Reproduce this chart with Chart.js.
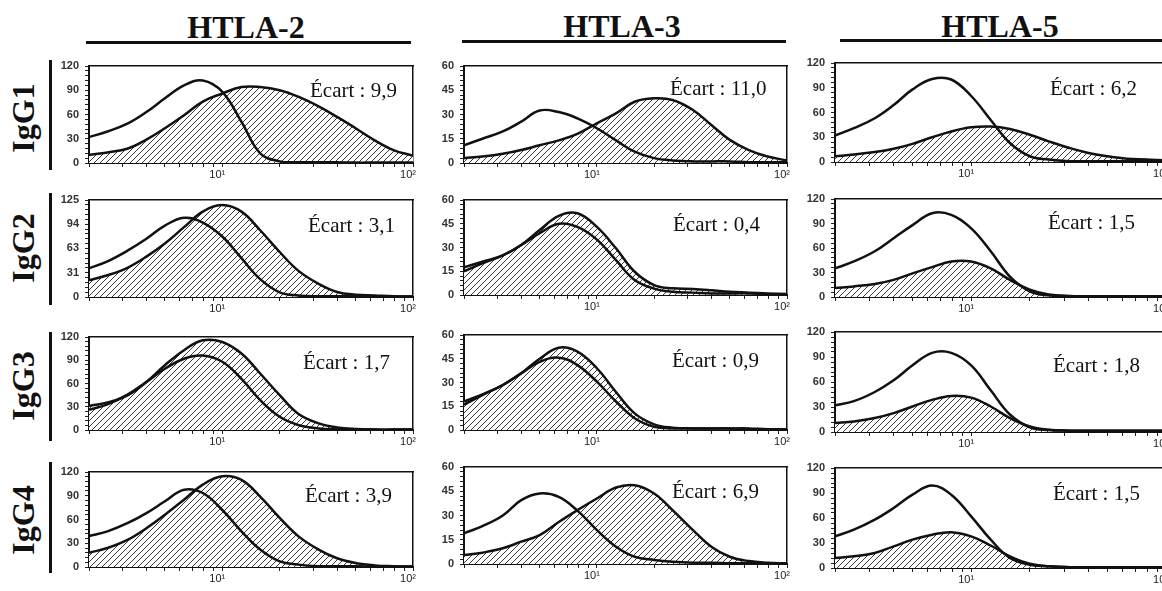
<!DOCTYPE html>
<html><head><meta charset="utf-8">
<script src="https://cdn.jsdelivr.net/npm/chart.js@4.4.0/dist/chart.umd.min.js"></script>
<style>
html,body{margin:0;padding:0;background:#fff;width:1162px;height:591px;overflow:hidden;position:relative;}
.t{position:absolute;font-family:"Liberation Serif","Times New Roman",serif;color:#111;white-space:nowrap;line-height:1;}
.col{font-weight:bold;font-size:32px;transform:translate(-50%,-50%);}
.row{font-weight:bold;font-size:32px;transform:translate(-50%,-50%) rotate(-90deg);}
.ec{font-size:21px;transform:translateY(-50%);}
.bar{position:absolute;background:#111;}
canvas{position:absolute;}
</style></head><body>
<script>
// ---------- data ----------
const columns = ['HTLA-2', 'HTLA-3', 'HTLA-5'];
const rows = ['IgG1', 'IgG2', 'IgG3', 'IgG4'];
const xValues = [2, 2.5, 3.2, 4, 5, 6.3, 7.9, 10, 12.6, 15.8, 20, 25, 32, 40, 50, 63, 79, 100];
const xTickValues = [2, 3, 4, 5, 6, 7, 8, 9, 10, 20, 30, 40, 50, 60, 70, 80, 90, 100];
const xTickLabels = { 10: '10¹', 100: '10²' };
const yTicks120 = [0, 30, 60, 90, 120];
const yTicks60 = [0, 15, 30, 45, 60];
const yTicks125 = [0, 31, 63, 94, 125];

const igg1_htla2_open    = [32, 39, 49, 63, 80, 96, 102, 88, 51, 12, 2, 1, 1, 1, 0.5, 0.5, 0.5, 0.5];
const igg1_htla2_hatched = [10, 13, 18, 29, 43, 59, 76, 86, 94, 94, 90, 82, 70, 57, 43, 28, 16, 9];
const igg1_htla3_open    = [11, 15, 19.5, 25.6, 32.5, 31.5, 27.6, 21.5, 14, 7, 3, 1.6, 1, 1, 1, 0.5, 0.5, 0.5];
const igg1_htla3_hatched = [3, 4, 5.7, 8, 11, 14, 18, 24.6, 30.7, 37.9, 40, 39, 32.8, 23.5, 14.3, 8, 4, 1.6];
const igg1_htla5_open    = [32, 41, 53, 69, 88, 100.6, 100, 80, 51, 23, 7, 3, 1, 1, 1, 1, 1, 1];
const igg1_htla5_hatched = [7, 9, 12, 16, 22, 30, 37, 42, 43, 40, 33, 25, 17, 11, 7, 4, 3, 2];

const igg2_htla2_open    = [37, 46, 60, 75, 92, 102, 96, 78, 50, 23, 6, 2, 1, 1, 1, 0.5, 0.5, 0.5];
const igg2_htla2_hatched = [21.5, 28, 38, 52, 69, 90, 110, 118.5, 110, 86, 58, 34, 17, 6.5, 3, 2, 1, 0.5];
const igg2_htla3_open    = [17.5, 21, 25, 31.6, 39, 45, 43, 35, 22, 9.5, 4, 2, 1.5, 1, 1, 1, 0.5, 0.5];
const igg2_htla3_hatched = [15, 20, 25, 31.6, 41, 50, 51.6, 43, 29.5, 14.7, 6.3, 4.2, 3.8, 3, 2, 1.5, 1, 0.6];
const igg2_htla5_open    = [35, 43.5, 56, 72, 88, 102.6, 100.5, 84, 56, 25, 7, 2, 1, 1, 1, 1, 1, 1];
const igg2_htla5_hatched = [11, 13, 16, 21, 29, 36.6, 43.5, 43.5, 35, 21, 9, 3, 1.2, 1, 1, 1, 1, 1];

const igg3_htla2_open    = [26, 33, 46, 62, 79, 92, 96, 88, 66, 38.6, 17, 6.4, 2, 1, 1, 0.5, 0.5, 0.5];
const igg3_htla2_hatched = [31, 35.6, 45, 62, 83.6, 103, 115.7, 113.6, 98.6, 72.9, 45, 21, 8.6, 3.4, 1.3, 0.5, 0.5, 0.5];
const igg3_htla3_open    = [16, 22, 28.4, 35.8, 43, 45.7, 41, 30.5, 18, 7.4, 2, 1, 1, 1, 1, 0.5, 0.5, 0.5];
const igg3_htla3_hatched = [18, 22.5, 28.4, 35.8, 45, 52, 49.5, 39, 24, 10.5, 3.6, 1.5, 1, 1, 1, 1, 0.5, 0.5];
const igg3_htla5_open    = [32, 37, 48, 62, 80, 95, 95, 80, 50, 21, 5.6, 2.4, 1.6, 1.5, 1.5, 1.5, 1.5, 1.5];
const igg3_htla5_hatched = [10.7, 12.7, 16.7, 22.6, 30.6, 38.5, 43.3, 41.3, 30.6, 16.7, 6.7, 2.8, 1.6, 1.5, 1.5, 1.5, 1.5, 1.5];

const igg4_htla2_open    = [39, 45, 55.6, 68, 83, 97.7, 93.5, 72, 45, 22, 7, 3, 1, 1, 1, 0.5, 0.5, 0.5];
const igg4_htla2_hatched = [18, 24, 34.5, 49, 66, 85, 104, 114.5, 110, 89, 62, 39, 22, 11, 5, 2, 1, 0.5];
const igg4_htla3_open    = [19, 23.4, 30, 39.5, 43.6, 41.5, 33, 21, 10.7, 4.5, 2.5, 1.4, 0.8, 0.8, 0.5, 0.5, 0.5, 0.5];
const igg4_htla3_hatched = [5.5, 7, 9.7, 13.8, 17.9, 26, 33.3, 40.5, 47.3, 48.7, 43.6, 33.3, 21, 10.7, 4.5, 1.8, 0.8, 0.4];
const igg4_htla5_open    = [38, 46, 58, 72, 88, 99, 88, 62, 34, 12, 4, 2, 1, 1, 1, 1, 1, 1];
const igg4_htla5_hatched = [12, 14, 18, 26, 34, 40, 43, 38, 27, 14, 5, 2, 1, 1, 1, 1, 1, 1];

const ecartValues = ['9,9', '11,0', '6,2', '3,1', '0,4', '1,5', '1,7', '0,9', '1,8', '3,9', '6,9', '1,5'];

const panels = [
  { open: igg1_htla2_open, hatched: igg1_htla2_hatched, yTicks: yTicks120 },
  { open: igg1_htla3_open, hatched: igg1_htla3_hatched, yTicks: yTicks60 },
  { open: igg1_htla5_open, hatched: igg1_htla5_hatched, yTicks: yTicks120 },
  { open: igg2_htla2_open, hatched: igg2_htla2_hatched, yTicks: yTicks125 },
  { open: igg2_htla3_open, hatched: igg2_htla3_hatched, yTicks: yTicks60 },
  { open: igg2_htla5_open, hatched: igg2_htla5_hatched, yTicks: yTicks120 },
  { open: igg3_htla2_open, hatched: igg3_htla2_hatched, yTicks: yTicks120 },
  { open: igg3_htla3_open, hatched: igg3_htla3_hatched, yTicks: yTicks60 },
  { open: igg3_htla5_open, hatched: igg3_htla5_hatched, yTicks: yTicks120 },
  { open: igg4_htla2_open, hatched: igg4_htla2_hatched, yTicks: yTicks120 },
  { open: igg4_htla3_open, hatched: igg4_htla3_hatched, yTicks: yTicks60 },
  { open: igg4_htla5_open, hatched: igg4_htla5_hatched, yTicks: yTicks120 }
];

// ---------- layout (positions only) ----------
const plotBoxes = [
  [89, 66, 413, 163], [464, 66, 787, 163], [835, 63, 1166, 162],
  [89, 200, 413, 297], [464, 200, 787, 295], [835, 199, 1166, 297],
  [89, 337, 413, 430], [464, 335, 787, 430], [835, 332, 1166, 432],
  [89, 472, 413, 567], [464, 467, 787, 564], [835, 468, 1166, 568]
];
const ecartPos = [
  [310, 90], [670, 88], [1050, 88],
  [308, 225], [673, 224], [1048, 222],
  [303, 362], [672, 360], [1053, 365],
  [305, 495], [672, 491], [1053, 493]
];
const colTitlePos = [[246, 27], [622, 26], [1000, 26]];
const colLines = [[86, 41, 325], [462, 40, 324], [840, 39, 322]];
const rowLabelPos = [[23, 118], [23, 248], [23, 386], [23, 520]];
const rowBars = [[60, 170], [193, 305], [332, 441], [462, 573]];

// ---------- text & decorations ----------
function addDiv(cls, text, x, y) {
  const d = document.createElement('div');
  d.className = 't ' + cls; d.textContent = text;
  d.style.left = x + 'px'; d.style.top = y + 'px';
  document.body.appendChild(d);
}
columns.forEach((c, i) => {
  addDiv('col', c, colTitlePos[i][0], colTitlePos[i][1]);
  const b = document.createElement('div'); b.className = 'bar';
  b.style.left = colLines[i][0] + 'px'; b.style.top = colLines[i][1] + 'px';
  b.style.width = colLines[i][2] + 'px'; b.style.height = '3px';
  document.body.appendChild(b);
});
rows.forEach((r, i) => {
  addDiv('row', r, rowLabelPos[i][0], rowLabelPos[i][1]);
  const b = document.createElement('div'); b.className = 'bar';
  b.style.left = '49px'; b.style.top = rowBars[i][0] + 'px';
  b.style.width = '3px'; b.style.height = (rowBars[i][1] - rowBars[i][0]) + 'px';
  document.body.appendChild(b);
});

// ---------- hatch pattern ----------
function makeHatch() {
  const n = 6;
  const c = document.createElement('canvas'); c.width = n; c.height = n;
  const g = c.getContext('2d');
  g.fillStyle = '#fff'; g.fillRect(0, 0, n, n);
  g.strokeStyle = '#3a3a3a'; g.lineWidth = 1;
  g.beginPath();
  g.moveTo(0, n); g.lineTo(n, 0);
  g.moveTo(-1, 1); g.lineTo(1, -1);
  g.moveTo(n - 1, n + 1); g.lineTo(n + 1, n - 1);
  g.stroke();
  return g.createPattern(c, 'repeat');
}
const hatch = makeHatch();

const tickFont = { family: 'Liberation Sans', size: 11, weight: 'bold' };

function makeChart(p, box) {
  const [L, T, R, B] = box;
  const padL = 46, padT = 8, padR = 14, padB = 26;
  const w = (R - L) + padL + padR, h = (B - T) + padT + padB;
  const cv = document.createElement('canvas');
  cv.width = w; cv.height = h;
  cv.style.left = (L - padL) + 'px'; cv.style.top = (T - padT) + 'px';
  cv.style.width = w + 'px'; cv.style.height = h + 'px';
  document.body.appendChild(cv);
  const majors = p.yTicks;
  const yMax = majors[majors.length - 1];
  const yTickList = majors.slice();
  for (let k = 1; k < 20; k++) {
    const v = yMax * k / 20;
    if (!majors.some(m => Math.abs(m - v) < 1.5)) yTickList.push(v);
  }
  yTickList.sort((a, b) => a - b);
  new Chart(cv, {
    type: 'line',
    data: {
      datasets: [
        { data: xValues.map((x, i) => ({ x: x, y: p.open[i] })), borderColor: '#111', borderWidth: 2.5,
          pointRadius: 0, fill: false, tension: 0.4, order: 1 },
        { data: xValues.map((x, i) => ({ x: x, y: p.hatched[i] })), borderColor: '#111', borderWidth: 2.5,
          pointRadius: 0, fill: 'origin', backgroundColor: hatch, tension: 0.4, order: 2 }
      ]
    },
    options: {
      responsive: false, animation: false, devicePixelRatio: 1, events: [],
      layout: { padding: { left: 0, top: padT, right: padR, bottom: 0 } },
      plugins: { legend: { display: false }, tooltip: { enabled: false } },
      scales: {
        x: {
          type: 'logarithmic', min: 2, max: 100, position: 'bottom',
          afterBuildTicks: s => { s.ticks = xTickValues.map(v => ({ value: v })); },
          afterFit: s => { s.height = padB; s.paddingLeft = 0; s.paddingRight = 0; },
          ticks: { autoSkip: false, maxRotation: 0, minRotation: 0, padding: 1, labelOffset: -5,
                   font: { family: 'Liberation Sans', size: 11 }, color: '#222', callback: v => xTickLabels[v] || '' },
          grid: { drawOnChartArea: false, tickLength: 4, tickColor: '#222', tickWidth: 1 },
          border: { color: '#111', width: 2 }
        },
        y: {
          type: 'linear', min: 0, max: yMax, position: 'left',
          afterBuildTicks: s => { s.ticks = yTickList.map(v => ({ value: v })); },
          afterFit: s => { s.width = padL; s.paddingTop = 0; s.paddingBottom = 0; },
          ticks: { autoSkip: false, padding: 6, font: tickFont, color: '#333',
                   callback: v => { const m = majors.find(q => Math.abs(q - v) < 0.01); return m === undefined ? '' : String(m); } },
          grid: { drawOnChartArea: false, tickLength: 4, tickColor: '#222', tickWidth: 1 },
          border: { color: '#111', width: 2 }
        },
        xt: {
          type: 'linear', min: 0, max: 1, position: 'top',
          ticks: { display: false }, grid: { display: false, drawTicks: false },
          afterFit: s => { s.height = 0; s.paddingLeft = 0; s.paddingRight = 0; },
          border: { display: true, color: '#111', width: 1.5 }
        },
        yr: {
          type: 'linear', min: 0, max: 1, position: 'right',
          ticks: { display: false }, grid: { display: false, drawTicks: false },
          afterFit: s => { s.width = 0; s.paddingTop = 0; s.paddingBottom = 0; },
          border: { display: true, color: '#111', width: 1.5 }
        }
      }
    }
  });
}

panels.forEach((p, i) => {
  makeChart(p, plotBoxes[i]);
  addDiv('ec', 'Écart : ' + ecartValues[i], ecartPos[i][0], ecartPos[i][1]);
});
</script>
</body></html>
